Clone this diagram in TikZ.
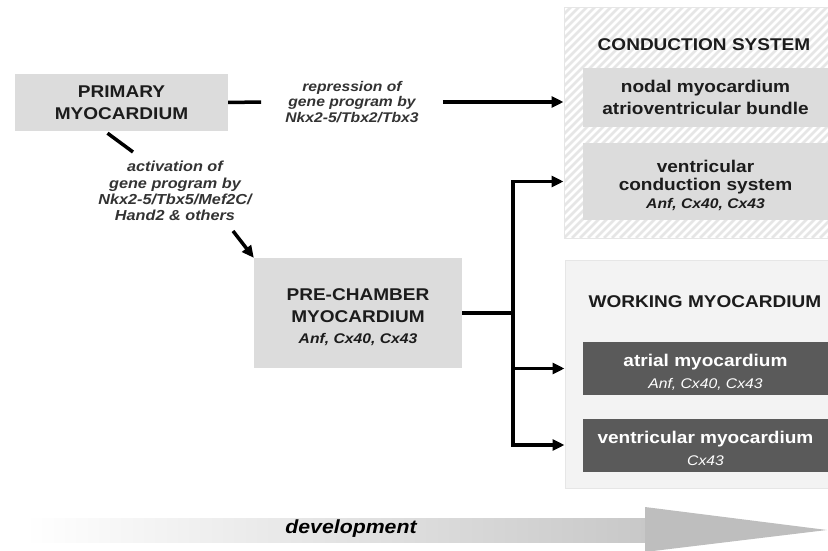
\documentclass[tikz,border=0pt]{standalone}
\usepackage{fontspec}
\setmainfont{Liberation Sans}[FakeStretch=1.12]
\usetikzlibrary{arrows.meta, positioning, calc}

\definecolor{boxgray}{HTML}{DCDCDC}
\definecolor{darkbox}{HTML}{5A5A5A}
\definecolor{paleback}{HTML}{F3F3F3}
\definecolor{hatchgray}{HTML}{E6E6E6}
\definecolor{inkgray}{HTML}{1C1C1C}
\definecolor{shaftgray}{HTML}{C8C8C8}
\definecolor{headgray}{HTML}{BEBEBE}

\newcommand{\capsfont}{\fontsize{17}{22}\selectfont\bfseries}
\newcommand{\tightfont}{\fontsize{17}{18}\selectfont\bfseries}
\newcommand{\genes}{\fontsize{14}{17}\selectfont\bfseries\itshape}
\newcommand{\whitegenes}{\fontsize{14}{17}\selectfont\mdseries\itshape}
\newcommand{\lift}{\rule{0pt}{20pt}}

\tikzset{
  cell/.style={fill=boxgray, inner sep=0pt, align=center, text=inkgray},
  darkcell/.style={fill=darkbox, inner sep=0pt, align=center, text=white, font=\capsfont},
  heading/.style={font=\capsfont, text=inkgray, align=center},
  genelabel/.style={font=\fontsize{14}{15.7}\selectfont\bfseries\itshape, text=inkgray!90, align=center},
  link/.style={line width=3.5pt, draw=black},
  conn/.style={link, -{Triangle[length=12pt, width=11pt]}},
  hatch/.style={draw=hatchgray, line width=2.5pt}
}

\begin{document}
\begin{tikzpicture}[x=1pt, y=-1pt]
  \useasboundingbox (0,0) rectangle (828,551);

  % conduction system panel
  \node[fill=white, draw=hatchgray, line width=1pt, minimum width=264pt, minimum height=230pt, inner sep=0pt] (conduction) at (696,123) {};
  \begin{scope}
    \clip (564,8) rectangle (828,238);
    \foreach \i in {324,332,...,828}
      \draw[hatch] (\i,238) -- ++(240,-240);
  \end{scope}
  \node[heading] (condtitle) at (704,45) {CONDUCTION SYSTEM};
  \node[cell, font=\capsfont, minimum width=245pt, minimum height=59pt] (nodal) at (705.5,97.5)
    {nodal myocardium\\atrioventricular bundle};
  \node[cell, font=\tightfont, minimum width=245pt, minimum height=77pt] (vcs) at (705.5,181.5)
    {\lift ventricular\\conduction system\\{\genes Anf, Cx40, Cx43}};

  % working myocardium panel
  \node[fill=paleback, draw=hatchgray, line width=1pt, minimum width=263pt, minimum height=228pt, inner sep=0pt] (working) at (696.5,374) {};
  \node[heading] (worktitle) at (705,302) {WORKING MYOCARDIUM};
  \node[darkcell, minimum width=245pt, minimum height=53pt] (atrial) at (705.5,368.5)
    {\lift atrial myocardium\\{\whitegenes Anf, Cx40, Cx43}};
  \node[darkcell, minimum width=245pt, minimum height=53pt] (vmyo) at (705.5,445)
    {\lift ventricular myocardium\\{\whitegenes Cx43}};

  % left side
  \node[cell, font=\capsfont, minimum width=213pt, minimum height=57pt] (primary) at (121.5,102.5)
    {PRIMARY\\MYOCARDIUM};
  \node[genelabel, inner xsep=24pt] (repress) at (352,102)
    {repression of\\gene program by\\Nkx2-5/Tbx2/Tbx3};
  \node[genelabel, font=\fontsize{14.5}{16.2}\selectfont\bfseries\itshape] (activ) at (175,191)
    {activation of\\gene program by\\Nkx2-5/Tbx5/Mef2C/\\Hand2 \& others};
  \node[cell, font=\capsfont, minimum width=208pt, minimum height=110pt] (prechamber) at (358,313)
    {\lift PRE-CHAMBER\\MYOCARDIUM\\[-1pt]{\genes Anf, Cx40, Cx43}};

  \coordinate (actin) at (133,152);
  \coordinate (actout) at (233,231);
  \coordinate (fork) at (513,313);

  \draw[link] (primary.east) -- (repress.west);
  \draw[conn] (repress.east) -- (repress.east -| conduction.west);
  \draw[link] ($(primary.south)+(-14,2)$) -- (actin);
  \draw[conn] (actout) -- (prechamber.north west);
  \draw[link] (prechamber.east) -- (fork);
  \draw[conn] (fork) |- (vcs -| conduction.west);
  \draw[conn] (fork) |- (atrial -| working.west);
  \draw[conn] (fork) |- (vmyo -| working.west);

  % development arrow
  \shade[left color=white, right color=shaftgray] (25,518) rectangle (646,542);
  \fill[headgray] (645,507) -- (827,530) -- (645,552) -- cycle;
  \node[font=\fontsize{19}{22}\selectfont\bfseries\itshape, text=black] (dev) at (351,529) {development};
\end{tikzpicture}
\end{document}
